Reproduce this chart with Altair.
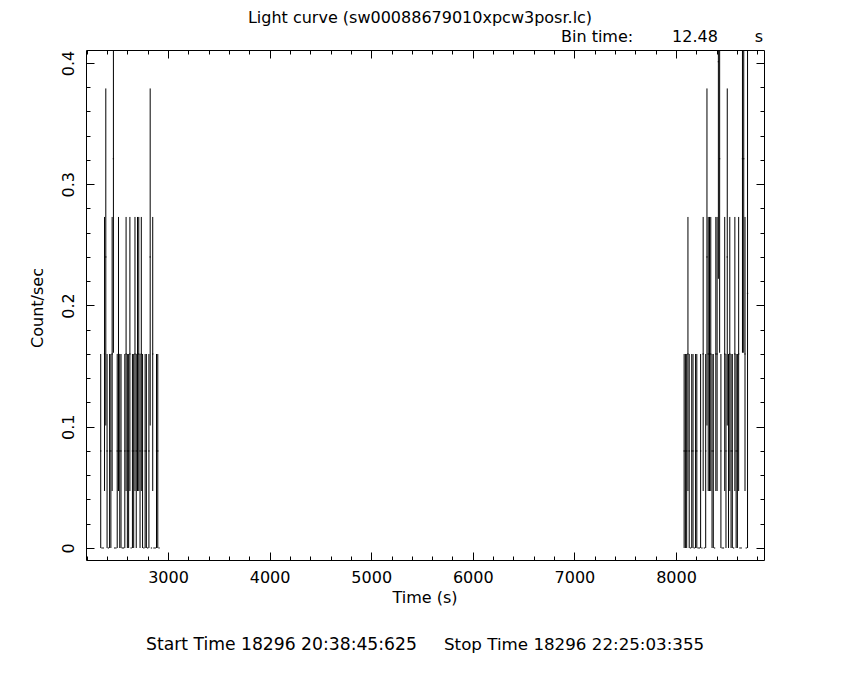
import altair as alt
import pandas as pd

# ---- data -----------------------------------------------------------------
time_left = [2338.00, 2350.48, 2362.96, 2375.44, 2387.92, 2400.40, 2412.88, 2425.36, 2437.84, 2450.32,
             2462.80, 2475.28, 2487.76, 2500.24, 2512.72, 2525.20, 2537.68, 2550.16, 2562.64, 2575.12,
             2587.60, 2600.08, 2612.56, 2625.04, 2637.52, 2650.00, 2662.48, 2674.96, 2687.44, 2699.92,
             2712.40, 2724.88, 2737.36, 2749.84, 2762.32, 2774.80, 2787.28, 2799.76, 2812.24, 2824.72,
             2837.20, 2849.68, 2862.16, 2874.64, 2887.12, 2899.60, 2912.08]
rate_left = [0.080, 0, 0, 0.160, 0.240, 0.080, 0, 0.080, 0.080, 0.160,
             0.321, 0, 0, 0.080, 0.160, 0.080, 0.080, 0, 0, 0.080,
             0.160, 0.080, 0.080, 0.160, 0, 0.080, 0.080, 0.160, 0.080, 0.160,
             0.160, 0.080, 0.160, 0.080, 0, 0.080, 0.080, 0, 0.080, 0.240,
             0, 0.160, 0, 0, 0.080, 0.080, 0]
err_left = [0.080, 0, 0, 0.113, 0.139, 0.080, 0, 0.080, 0.080, 0.113,
            0.160, 0, 0, 0.080, 0.113, 0.080, 0.080, 0, 0, 0.080,
            0.113, 0.080, 0.080, 0.113, 0, 0.080, 0.080, 0.113, 0.080, 0.113,
            0.113, 0.080, 0.113, 0.080, 0, 0.080, 0.080, 0, 0.080, 0.139,
            0, 0.113, 0, 0, 0.080, 0.080, 0]

time_right = [8080.00, 8092.48, 8104.96, 8117.44, 8129.92, 8142.40, 8154.88, 8167.36, 8179.84, 8192.32,
              8204.80, 8217.28, 8229.76, 8242.24, 8254.72, 8267.20, 8279.68, 8292.16, 8304.64, 8317.12,
              8329.60, 8342.08, 8354.56, 8367.04, 8379.52, 8392.00, 8404.48, 8416.96, 8429.44, 8441.92,
              8454.40, 8466.88, 8479.36, 8491.84, 8504.32, 8516.80, 8529.28, 8541.76, 8554.24, 8566.72,
              8579.20, 8591.68, 8604.16, 8616.64, 8629.12, 8641.60, 8654.08, 8666.56, 8679.04, 8691.52,
              8704.00]
rate_right = [0.080, 0.080, 0.080, 0.160, 0.080, 0, 0.080, 0.080, 0, 0.080,
              0.080, 0, 0, 0.080, 0, 0.160, 0, 0.080, 0.240, 0.160,
              0.160, 0.160, 0.080, 0.080, 0, 0.160, 0.160, 0.401, 0.321, 0.080,
              0, 0, 0.160, 0.080, 0.240, 0.080, 0.160, 0.080, 0.080, 0,
              0.160, 0.080, 0.080, 0.160, 0, 0, 0.321, 0.321, 0.160, 0,
              0.210]
err_right = [0.080, 0.080, 0.080, 0.113, 0.080, 0, 0.080, 0.080, 0, 0.080,
             0.080, 0, 0, 0.080, 0, 0.113, 0, 0.080, 0.139, 0.113,
             0.113, 0.113, 0.080, 0.080, 0, 0.113, 0.113, 0.179, 0.160, 0.080,
             0, 0, 0.113, 0.080, 0.139, 0.080, 0.113, 0.080, 0.080, 0,
             0.113, 0.080, 0.080, 0.113, 0, 0, 0.160, 0.160, 0.113, 0,
             0.210]

bin_time = 12.48
x_ticks = [2200, 2400, 2600, 2800, 3000, 3200, 3400, 3600, 3800, 4000, 4200, 4400, 4600, 4800,
           5000, 5200, 5400, 5600, 5800, 6000, 6200, 6400, 6600, 6800, 7000, 7200, 7400, 7600,
           7800, 8000, 8200, 8400, 8600, 8800]
y_ticks = [0, 0.02, 0.04, 0.06, 0.08, 0.1, 0.12, 0.14, 0.16, 0.18, 0.2, 0.22, 0.24, 0.26,
           0.28, 0.3, 0.32, 0.34, 0.36, 0.38, 0.4]

title_text = "Light curve (sw00088679010xpcw3posr.lc)"
start_text = "Start Time 18296 20:38:45:625"
stop_text = "Stop Time 18296 22:25:03:355"

# ---- build error-bar segments ----------------------------------------------
rows = []
for t, r, e in zip(time_left + time_right, rate_left + rate_right, err_left + err_right):
    rows.append({"x": t - bin_time / 2, "x2": t + bin_time / 2, "y": r, "y2": r})
    rows.append({"x": t, "x2": t, "y": r - e, "y2": r + e})
df = pd.DataFrame(rows)

FONT = "DejaVu Sans"
FS = 16
W, H = 678, 510

xs = alt.Scale(domain=[2193, 8866], nice=False, zero=False)
ys = alt.Scale(domain=[-0.0099, 0.4107], nice=False, zero=False)

x_major = "datum.value % 1000 === 0"
y_major = "abs(datum.value * 10 - round(datum.value * 10)) < 1e-6"

def ax(orient, values, cond, labels=False, **kw):
    return alt.Axis(orient=orient, values=values,
                    tickSize=alt.expr(f"({cond}) ? -8 : -4"),
                    domain=False, grid=False, ticks=True, tickColor="black",
                    tickWidth=1, labels=labels, title=None, labelFont=FONT,
                    labelFontSize=FS, labelColor="black", **kw)

bottom_axis = ax("bottom", x_ticks, x_major, labels=True, labelPadding=17,
                 labelBaseline="top", labelAlign="center",
                 labelExpr=f"({x_major}) ? format(datum.value, 'd') : ''")
left_axis = ax("left", y_ticks, y_major, labels=True, labelPadding=18, labelAngle=270,
               labelAlign="center", labelBaseline="bottom",
               labelExpr=f"({y_major}) ? format(datum.value, '.1~f') : ''")
top_axis = ax("top", x_ticks, x_major)
right_axis = ax("right", y_ticks, y_major)

data = alt.Chart(df).mark_rule(color="black", strokeWidth=1, clip=True).encode(
    x=alt.X("x:Q", scale=xs, axis=bottom_axis),
    x2="x2:Q",
    y=alt.Y("y:Q", scale=ys, axis=left_axis),
    y2="y2:Q",
)

frame_axes = alt.Chart(df).mark_rule(opacity=0).encode(
    x=alt.X("x:Q", scale=xs, axis=top_axis),
    y=alt.Y("y:Q", scale=ys, axis=right_axis),
)

def txt(s, x, y, align="center", angle=0, size=FS):
    return alt.Chart(pd.DataFrame({"s": [s]})).mark_text(
        text=s, align=align, baseline="middle", font=FONT, fontSize=size,
        color="black", angle=angle,
    ).encode(x=alt.value(x), y=alt.value(y))

texts = [
    txt(title_text, 334, -32, size=16),
    txt("Bin time:", 475, -13, align="left"),
    txt("12.48", 609, -13),
    txt("s", 673, -13),
    txt("Time (s)", 339, 548),
    txt("Count/sec", -48, 258, angle=270),
    txt(start_text, 60, 595, align="left", size=17.2),
    txt(stop_text, 358, 595, align="left", size=16.7),
]

chart = alt.layer(data, frame_axes, *texts).resolve_axis(
    x="independent", y="independent"
).properties(
    width=W, height=H,
    autosize=alt.AutoSizeParams(type="none"),
    padding={"left": 78, "top": 42, "right": 70, "bottom": 100},
    background="white",
).configure_view(stroke="black", strokeWidth=1)

chart.save("out.html", embed_options={"renderer": "svg", "actions": False})
